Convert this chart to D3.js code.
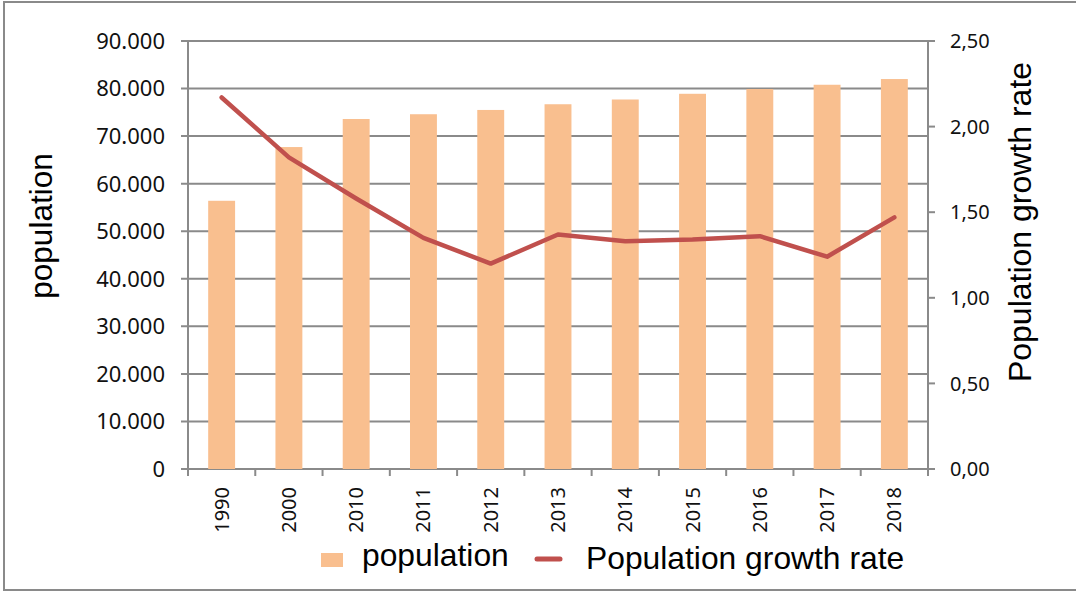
<!DOCTYPE html>
<html>
<head>
<meta charset="utf-8">
<script src="https://cdn.jsdelivr.net/npm/d3@7"></script>
<style>
  html, body { margin: 0; padding: 0; background: #fff; }
  svg { display: block; }
</style>
</head>
<body>
<svg id="chart" width="1076" height="591"></svg>
<script>
const categories = ["1990","2000","2010","2011","2012","2013","2014","2015","2016","2017","2018"];
const populationValues = [56400, 67700, 73600, 74600, 75500, 76700, 77700, 78900, 79900, 80800, 82000];
const growthRateValues = [2.17, 1.82, 1.58, 1.35, 1.20, 1.37, 1.33, 1.34, 1.36, 1.24, 1.47];
const leftTicks = [0, 10000, 20000, 30000, 40000, 50000, 60000, 70000, 80000, 90000];
const rightTicks = [0, 0.5, 1.0, 1.5, 2.0, 2.5];
const seriesNames = ["population", "Population growth rate"];

(function () {
const svg = d3.select("#chart");
const pLeft = 188, pRight = 928, pTop = 41, pBottom = 469;
const gridColor = "#8a8a8a";
const barColor = "#F9BF8F";
const lineColor = "#C0504D";

// outer border
svg.append("rect").attr("x", 4).attr("y", 2).attr("width", 1090).attr("height", 588)
  .attr("fill", "none").attr("stroke", gridColor).attr("stroke-width", 2);

const x = d3.scaleBand().domain(categories).range([pLeft, pRight]).paddingInner(0.6).paddingOuter(0.3);
const xTick = d3.scaleLinear().domain([0, categories.length]).range([pLeft, pRight]);
const yL = d3.scaleLinear().domain([0, 90000]).range([pBottom, pTop]);
const yR = d3.scaleLinear().domain([0, 2.5]).range([pBottom, pTop]);

const fmtL = v => v === 0 ? "0" : d3.format(",")(v).replace(/,/g, ".");
const fmtR = v => d3.format(".2f")(v).replace(".", ",");

// gridlines + left ticks
svg.append("g").selectAll("line").data(leftTicks).join("line")
  .attr("x1", pLeft - 7).attr("x2", pRight)
  .attr("y1", d => yL(d)).attr("y2", d => yL(d))
  .attr("stroke", gridColor).attr("stroke-width", 2);

// left axis line
svg.append("line").attr("x1", pLeft).attr("x2", pLeft).attr("y1", pTop).attr("y2", pBottom + 7)
  .attr("stroke", gridColor).attr("stroke-width", 2);
// right axis line
svg.append("line").attr("x1", pRight).attr("x2", pRight).attr("y1", pTop).attr("y2", pBottom)
  .attr("stroke", gridColor).attr("stroke-width", 2);
// right ticks
svg.append("g").selectAll("line").data(rightTicks).join("line")
  .attr("x1", pRight).attr("x2", pRight + 7)
  .attr("y1", d => yR(d)).attr("y2", d => yR(d))
  .attr("stroke", gridColor).attr("stroke-width", 2);
// x ticks
svg.append("g").selectAll("line").data(d3.range(categories.length + 1)).join("line")
  .attr("x1", d => xTick(d)).attr("x2", d => xTick(d))
  .attr("y1", pBottom).attr("y2", pBottom + 7)
  .attr("stroke", gridColor).attr("stroke-width", 2);

// bars
svg.append("g").selectAll("rect").data(populationValues).join("rect")
  .attr("x", (d, i) => x(categories[i]))
  .attr("width", x.bandwidth())
  .attr("y", d => yL(d))
  .attr("height", d => yL(0) - yL(d))
  .attr("fill", barColor);

// line
const line = d3.line()
  .x((d, i) => x(categories[i]) + x.bandwidth() / 2)
  .y(d => yR(d));
svg.append("path").datum(growthRateValues).attr("d", line)
  .attr("fill", "none").attr("stroke", lineColor).attr("stroke-width", 4.5)
  .attr("stroke-linecap", "round").attr("stroke-linejoin", "round");

// left tick labels
svg.append("g").selectAll("text").data(leftTicks).join("text")
  .attr("x", 165).attr("y", d => yL(d)).attr("dy", "0.36em")
  .attr("text-anchor", "end")
  .attr("font-family", "'Noto Sans', sans-serif").attr("font-size", 22).attr("fill", "#111")
  .text(fmtL);

// right tick labels
svg.append("g").selectAll("text").data(rightTicks).join("text")
  .attr("x", 950).attr("y", d => yR(d)).attr("dy", "0.36em")
  .attr("text-anchor", "start")
  .attr("font-family", "'Noto Sans', sans-serif").attr("font-size", 20).attr("fill", "#111")
  .text(fmtR);

// x tick labels
svg.append("g").selectAll("text").data(categories).join("text")
  .attr("transform", d => `translate(${x(d) + x.bandwidth() / 2 + 7},487) rotate(-90)`)
  .attr("text-anchor", "end")
  .attr("font-family", "'Noto Sans', sans-serif").attr("font-size", 20).attr("fill", "#111")
  .text(d => d);

// axis titles
svg.append("text")
  .attr("transform", "translate(52,226) rotate(-90)")
  .attr("text-anchor", "middle")
  .attr("font-family", "'Liberation Sans', Arial, sans-serif").attr("font-size", 31.5).attr("fill", "#000")
  .text(seriesNames[0]);

svg.append("text")
  .attr("transform", "translate(1031,222) rotate(-90)")
  .attr("text-anchor", "middle")
  .attr("font-family", "'Liberation Sans', Arial, sans-serif").attr("font-size", 32).attr("fill", "#000")
  .text(seriesNames[1]);

// legend
const lg = svg.append("g");
lg.append("rect").attr("x", 321).attr("y", 553).attr("width", 22).attr("height", 14).attr("fill", barColor);
lg.append("text").attr("x", 362).attr("y", 566)
  .attr("font-family", "'Liberation Sans', Arial, sans-serif").attr("font-size", 31.8).attr("fill", "#000")
  .text(seriesNames[0]);
lg.append("line").attr("x1", 537).attr("x2", 560).attr("y1", 559).attr("y2", 559)
  .attr("stroke", lineColor).attr("stroke-width", 5).attr("stroke-linecap", "round");
lg.append("text").attr("x", 586).attr("y", 569)
  .attr("font-family", "'Liberation Sans', Arial, sans-serif").attr("font-size", 31.8).attr("fill", "#000")
  .text(seriesNames[1]);
})();
</script>
</body>
</html>
